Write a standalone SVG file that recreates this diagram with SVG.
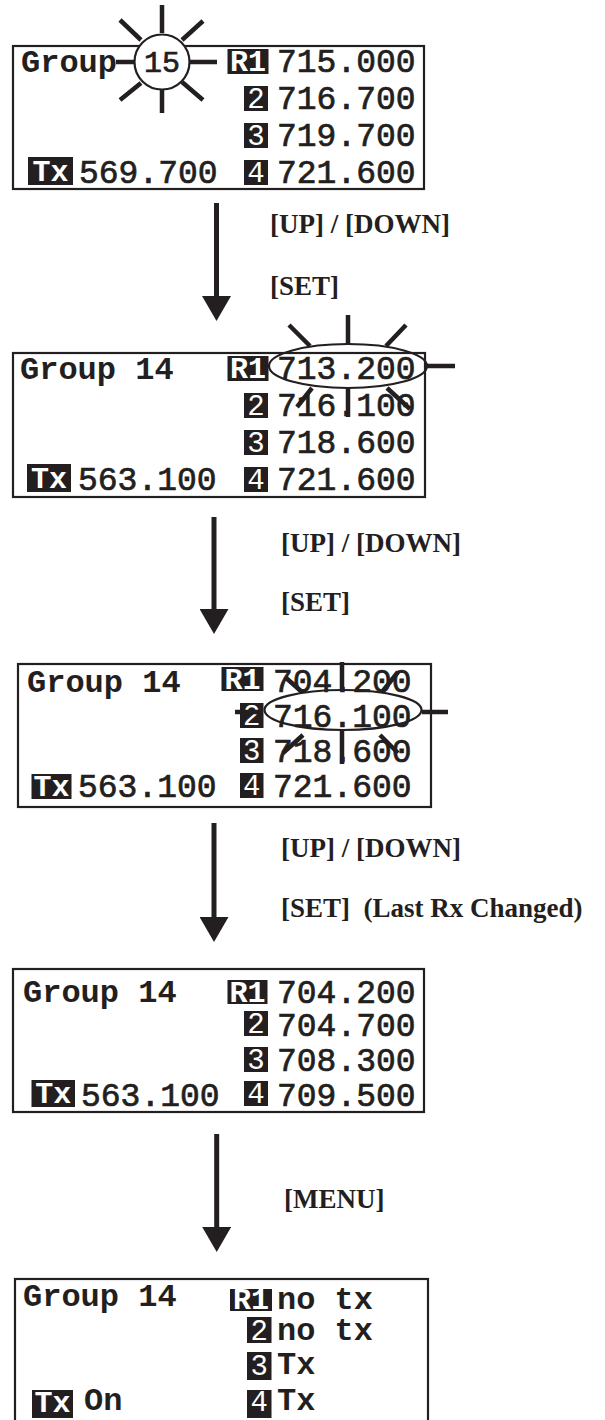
<svg xmlns="http://www.w3.org/2000/svg" width="605" height="1420" viewBox="0 0 605 1420">
<style>
.bg{fill:#fff}
.box{fill:none;stroke:#231f20;stroke-width:2.2}
.grp{font-family:"Liberation Mono","DejaVu Sans Mono",monospace;font-weight:bold;font-size:32px;fill:#231f20}
.num{font-family:"Liberation Mono","DejaVu Sans Mono",monospace;font-size:33px;fill:#231f20;stroke:#231f20;stroke-width:0.7}
.tag{fill:#231f20}
.tt{font-family:"Liberation Mono","DejaVu Sans Mono",monospace;font-weight:bold;font-size:30px;fill:#fff;text-anchor:middle}
.td{font-family:"Liberation Mono","DejaVu Sans Mono",monospace;font-size:29px;fill:#fff;text-anchor:middle}
.ray{stroke:#231f20;stroke-width:4.5;fill:none}
.ring{fill:none;stroke:#231f20;stroke-width:2.2}
.wire{stroke:#231f20;stroke-width:5;fill:none}
.cap{font-family:"Liberation Serif","Times New Roman",serif;font-weight:bold;font-size:27px;fill:#231f20}
</style>
<defs>
<marker id="ah" markerUnits="userSpaceOnUse" viewBox="0 0 25 29" markerWidth="25" markerHeight="29" refX="0" refY="14.5" orient="auto">
<path d="M0,0 L25,14.5 L0,29 Z" fill="#231f20"/>
</marker>
</defs>
<rect class="bg" x="0" y="0" width="605" height="1420"/>

<g id="panel1">
<rect class="box" x="13" y="46" width="411" height="143"/>
<text class="grp" x="21" y="72">Group</text>
<circle cx="162" cy="62" r="27.5" fill="#fff" stroke="#231f20" stroke-width="2.2"/>
<text class="num" x="162" y="72" text-anchor="middle" style="font-size:30px">15</text>
<path class="ray" d="M162,5V33 M162,90V113 M116,62H134 M189,62H217 M120,20L141,40 M203,21L182,40 M120,100L141,83 M203,100L182,82"/>
<rect class="tag" x="227.5" y="49" width="41" height="25"/><text class="tt" x="248" y="71">R1</text>
<text class="num" x="277" y="72">715.000</text>
<rect class="tag" x="244" y="86" width="24" height="25"/><text class="td" x="256" y="108">2</text>
<text class="num" x="277" y="109">716.700</text>
<rect class="tag" x="244" y="123" width="24" height="25"/><text class="td" x="256" y="145">3</text>
<text class="num" x="277" y="146">719.700</text>
<rect class="tag" x="244" y="160" width="24" height="25"/><text class="td" x="256" y="182">4</text>
<text class="num" x="277" y="183">721.600</text>
<rect class="tag" x="28" y="157" width="45" height="28"/><text class="tt" x="50.5" y="181">Tx</text>
<text class="num" x="79" y="183">569.700</text>
</g>

<g id="panel2">
<rect class="box" x="13" y="353" width="412" height="144"/>
<text class="grp" x="20" y="379">Group 14</text>
<rect class="tag" x="227.5" y="356" width="41" height="25"/><text class="tt" x="248" y="378">R1</text>
<text class="num" x="277" y="379">713.200</text>
<rect class="tag" x="244" y="393" width="24" height="25"/><text class="td" x="256" y="415">2</text>
<text class="num" x="277" y="416">716.100</text>
<rect class="tag" x="244" y="430" width="24" height="25"/><text class="td" x="256" y="452">3</text>
<text class="num" x="277" y="453">718.600</text>
<rect class="tag" x="244" y="467" width="24" height="25"/><text class="td" x="256" y="489">4</text>
<text class="num" x="277" y="490">721.600</text>
<rect class="tag" x="27" y="464" width="44" height="28"/><text class="tt" x="49" y="488">Tx</text>
<text class="num" x="78" y="490">563.100</text>
<ellipse class="ring" cx="348" cy="366" rx="79" ry="22"/>
<path class="ray" d="M348,315V344 M289,325L310,346 M406,325L386,346 M427,366H455 M297,407L312,388 M348,388V417 M387,388L410,409"/>
</g>

<g id="panel3">
<rect class="box" x="18" y="664" width="413" height="143"/>
<text class="grp" x="27" y="692">Group 14</text>
<rect class="tag" x="221.5" y="667" width="42" height="24"/><text class="tt" x="242.5" y="689">R1</text>
<text class="num" x="273" y="692">704.200</text>
<rect class="tag" x="240" y="703" width="23.5" height="25"/><text class="td" x="251.7" y="725">2</text>
<text class="num" x="273" y="727">716.100</text>
<rect class="tag" x="240" y="738" width="23.5" height="25"/><text class="td" x="251.7" y="760">3</text>
<text class="num" x="273" y="762">718.600</text>
<rect class="tag" x="240" y="773" width="23.5" height="25"/><text class="td" x="251.7" y="795">4</text>
<text class="num" x="273" y="797">721.600</text>
<rect class="tag" x="31.5" y="774" width="40" height="25"/><text class="tt" x="51.5" y="796">Tx</text>
<text class="num" x="78" y="797">563.100</text>
<ellipse class="ring" cx="343" cy="710" rx="78.5" ry="20"/>
<path class="ray" d="M342,662V690 M285,677L302,692 M398,672L382,692 M235,712H263 M422,712H448 M283,753L303,735 M342,730V764 M398,753L380,735"/>
</g>

<g id="panel4">
<rect class="box" x="13" y="969" width="411" height="143"/>
<text class="grp" x="23" y="1002">Group 14</text>
<rect class="tag" x="227.5" y="980" width="40" height="24"/><text class="tt" x="247.5" y="1002">R1</text>
<text class="num" x="277" y="1003">704.200</text>
<rect class="tag" x="244" y="1011" width="24" height="25"/><text class="td" x="256" y="1033">2</text>
<text class="num" x="277" y="1036">704.700</text>
<rect class="tag" x="244" y="1047" width="24" height="25"/><text class="td" x="256" y="1069">3</text>
<text class="num" x="277" y="1071">708.300</text>
<rect class="tag" x="244" y="1081" width="24" height="25"/><text class="td" x="256" y="1103">4</text>
<text class="num" x="277" y="1106">709.500</text>
<rect class="tag" x="31.5" y="1080" width="43.5" height="27"/><text class="tt" x="53.2" y="1103">Tx</text>
<text class="num" x="81" y="1106">563.100</text>
</g>

<g id="panel5">
<rect class="box" x="15" y="1279" width="413" height="143"/>
<text class="grp" x="23" y="1306">Group 14</text>
<rect class="tag" x="230" y="1289" width="42" height="22"/><text class="tt" x="251" y="1309">R1</text>
<text class="grp" x="277" y="1309">no tx</text>
<rect class="tag" x="247" y="1317" width="24.5" height="26"/><text class="td" x="259.2" y="1340">2</text>
<text class="grp" x="277" y="1340">no tx</text>
<rect class="tag" x="247" y="1352" width="24.5" height="28"/><text class="td" x="259.2" y="1375">3</text>
<text class="grp" x="277" y="1374">Tx</text>
<rect class="tag" x="247" y="1390" width="24.5" height="28"/><text class="td" x="259.2" y="1411">4</text>
<text class="grp" x="277" y="1410">Tx</text>
<rect class="tag" x="32" y="1390" width="41" height="28"/><text class="tt" x="52.5" y="1412">Tx</text>
<text class="grp" x="84" y="1410">On</text>
</g>

<g id="connectors">
<line class="wire" x1="216.5" y1="203" x2="216.5" y2="296" marker-end="url(#ah)"/>
<line class="wire" x1="214" y1="517" x2="214" y2="609" marker-end="url(#ah)"/>
<line class="wire" x1="214" y1="823" x2="214" y2="917" marker-end="url(#ah)"/>
<line class="wire" x1="216.7" y1="1134" x2="216.7" y2="1227" marker-end="url(#ah)"/>
<text class="cap" x="270" y="233">[UP] / [DOWN]</text>
<text class="cap" x="270" y="295">[SET]</text>
<text class="cap" x="281" y="552">[UP] / [DOWN]</text>
<text class="cap" x="281" y="611">[SET]</text>
<text class="cap" x="281" y="857">[UP] / [DOWN]</text>
<text class="cap" x="281" y="917" xml:space="preserve">[SET]  (Last Rx Changed)</text>
<text class="cap" x="284" y="1208">[MENU]</text>
</g>
</svg>
